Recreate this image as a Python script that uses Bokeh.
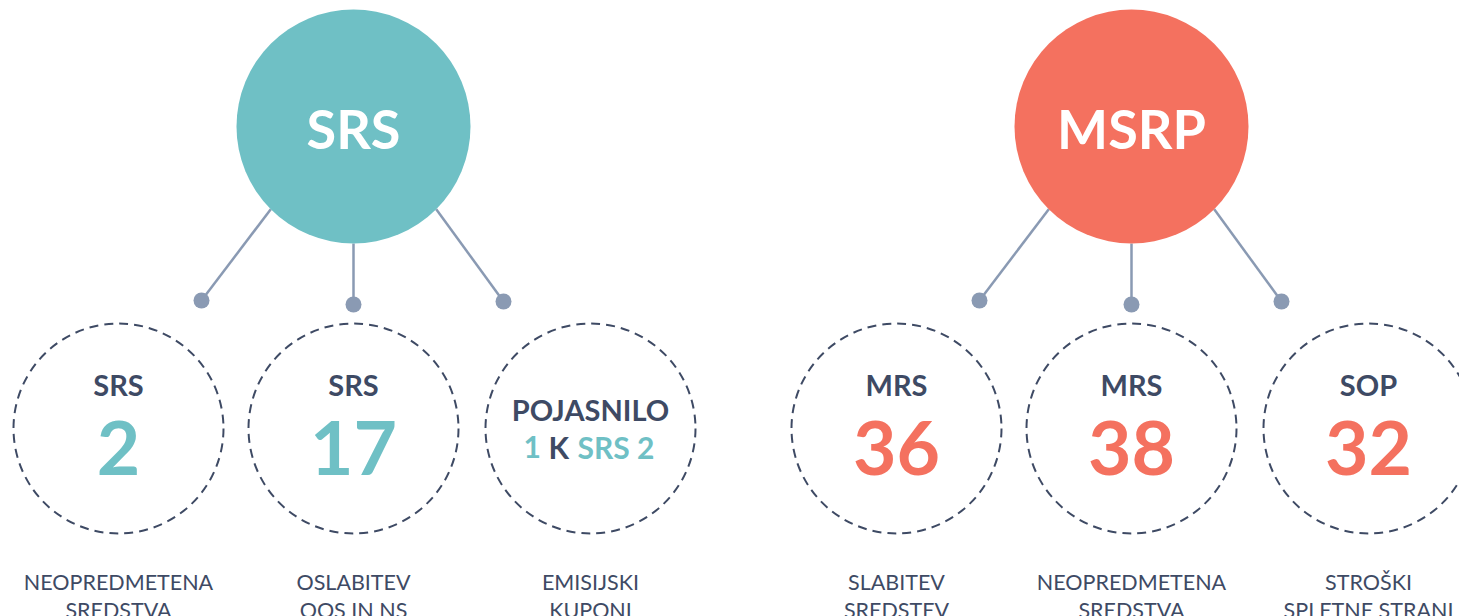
from bokeh.plotting import figure
from bokeh.models import Range1d
from bokeh.core.properties import value
from bokeh.embed import file_html
from bokeh.resources import INLINE
import math

# ---- data ----
group_names = ["SRS", "MSRP"]
group_colors = ["#6fc0c5", "#f4715f"]
item_group = [0, 0, 0, 1, 1, 1]
item_tags = ["SRS", "SRS", "POJASNILO", "MRS", "MRS", "SOP"]
item_values = ["2", "17", "", "36", "38", "32"]
caption_line1 = ["NEOPREDMETENA", "OSLABITEV", "EMISIJSKI", "SLABITEV", "NEOPREDMETENA", "STROŠKI"]
caption_line2 = ["SREDSTVA", "OOS IN NS", "KUPONI", "SREDSTEV", "SREDSTVA", "SPLETNE STRANI"]
note_parts = ["1", "K", "SRS 2"]
note_is_accent = [True, False, True]
note_item = 2

# ---- layout (pixels) ----
W, H = 1459, 616
group_cx = [353, 1131]
group_cy = 126
big_r = 117
item_dx = [-235, 0, 237]
item_cy = 428
item_r = 105
dot_dx = [-152, 0, 150]
dot_y = [300, 304, 301]
dot_r = 8
conn_angles = [135, 90, 45]
note_dx = [-67, -42, -13]
SHIFT = 0.37  # baseline correction (fraction of font size)

DARK = "#3e4a64"
CONN = "#8a9ab3"
FONT = value("Lato")


def by(y, fs):
    return y - SHIFT * fs


p = figure(width=W, height=H, x_range=Range1d(0, W), y_range=Range1d(H, 0),
           output_backend="svg", toolbar_location=None, x_axis_type=None, y_axis_type=None,
           min_border=0, background_fill_color="white", border_fill_color="white")
p.outline_line_color = None
p.grid.visible = False

# connectors
xs, ys, dx_, dy_ = [], [], [], []
for g in range(2):
    cx = group_cx[g]
    for k in range(3):
        a = math.radians(conn_angles[k])
        sx = cx + big_r * math.cos(a)
        sy = group_cy + big_r * math.sin(a)
        xs.append([sx, cx + dot_dx[k]])
        ys.append([sy, dot_y[k]])
        dx_.append(cx + dot_dx[k])
        dy_.append(dot_y[k])
p.multi_line(xs, ys, line_color=CONN, line_width=2.5)
p.circle(dx_, dy_, radius=dot_r, fill_color=CONN, line_color=None)

# big circles
p.circle(group_cx, [group_cy] * 2, radius=big_r, fill_color=group_colors, line_color=None)
p.text(group_cx, [by(148, 54)] * 2, text=group_names, text_color="white",
       text_font=FONT, text_font_style="bold", text_font_size="54px",
       text_align="center", text_baseline="alphabetic")

# item circles
ix = [group_cx[item_group[i]] + item_dx[i % 3] for i in range(6)]
ic = [group_colors[item_group[i]] for i in range(6)]
p.circle(ix, [item_cy] * 6, radius=item_r, fill_color=None, line_color=DARK,
         line_width=2, line_dash="9 6")

tag_y = [by(395, 29) if item_values[i] else by(420, 29) for i in range(6)]
p.text(ix, tag_y, text=item_tags, text_color=DARK, text_font=FONT, text_font_style="bold",
       text_font_size="29px", text_align="center", text_baseline="alphabetic")

vi = [i for i in range(6) if item_values[i]]
p.text([ix[i] for i in vi], [by(475, 75)] * len(vi), text=[item_values[i] for i in vi],
       text_color=[ic[i] for i in vi], text_font=FONT, text_font_style="bold",
       text_font_size="75px", text_align="center", text_baseline="alphabetic")

# note in third circle
p.text([ix[note_item] + d for d in note_dx], [by(458, 30)] * 3, text=note_parts,
       text_color=[ic[note_item] if a else DARK for a in note_is_accent],
       text_font=FONT, text_font_style="bold", text_font_size="30px",
       text_align="left", text_baseline="alphabetic")

# captions
p.text(ix, [by(589, 21.5)] * 6, text=caption_line1, text_color=DARK, text_font=FONT,
       text_font_size="21.5px", text_align="center", text_baseline="alphabetic")
p.text(ix, [by(617, 21.5)] * 6, text=caption_line2, text_color=DARK, text_font=FONT,
       text_font_size="21.5px", text_align="center", text_baseline="alphabetic")

open("out.html", "w").write(file_html(p, INLINE))
